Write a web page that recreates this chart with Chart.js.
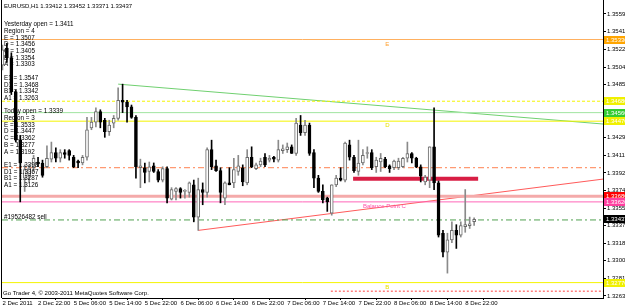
<!DOCTYPE html>
<html>
<head>
<meta charset="utf-8">
<script src="https://cdn.jsdelivr.net/npm/chart.js@4.4.0/dist/chart.umd.min.js"></script>
<style>
  html, body { margin: 0; padding: 0; background: #fff; }
  #wrap { width: 625px; height: 308px; }
</style>
</head>
<body>
<div id="wrap"><canvas id="chart" width="625" height="308"></canvas></div>
<script>
// EURUSD H1, bar 0 = 2 Dec 2011 14:00, last bar = 9 Dec 00:00
const opens = [
  1.3506,1.3524,1.3514,1.3478,1.3427,1.3387,1.3390,1.3398,1.3404,1.3403,
  1.3399,1.3407,1.3414,1.3408,1.3414,1.3416,1.3409,1.3405,1.3403,1.3409,
  1.3440,1.3446,1.3457,1.3448,1.3436,1.3445,1.3450,1.3469,1.3467,1.3462,
  1.3451,1.3398,1.3398,1.3394,1.3400,1.3394,1.3385,1.3397,1.3365,1.3373,
  1.3376,1.3373,1.3372,1.3380,1.3346,1.3375,1.3372,1.3417,1.3400,1.3395,
  1.3366,1.3382,1.3382,1.3394,1.3398,1.3382,1.3409,1.3397,1.3401,1.3409,
  1.3406,1.3409,1.3406,1.3416,1.3417,1.3420,1.3413,1.3443,1.3435,1.3443,
  1.3414,1.3387,1.3373,1.3366,1.3350,1.3380,1.3387,1.3385,1.3422,1.3409,
  1.3394,1.3403,1.3413,1.3414,1.3399,1.3404,1.3407,1.3400,1.3398,1.3398,
  1.3399,1.3408,1.3413,1.3408,1.3399,1.3383,1.3385,1.3420,1.3382,1.3329,
  1.3309,1.3322,1.3332,1.3327,1.3336,1.3337,1.33412
];
const highs = [
  1.3527,1.3529,1.3519,1.3480,1.3432,1.3401,1.3401,1.3411,1.3409,1.3406,
  1.3421,1.3425,1.3419,1.3417,1.3417,1.3417,1.3411,1.3406,1.3411,1.3451,
  1.3451,1.3461,1.3459,1.3450,1.3448,1.3453,1.3482,1.3486,1.3469,1.3464,
  1.3453,1.3407,1.3403,1.3404,1.3403,1.3396,1.3399,1.3399,1.3377,1.3377,
  1.3377,1.3375,1.3383,1.3385,1.3387,1.3382,1.3419,1.3427,1.3406,1.3398,
  1.3383,1.3398,1.3408,1.3411,1.3401,1.3417,1.3420,1.3403,1.3408,1.3413,
  1.3411,1.3410,1.3427,1.3422,1.3424,1.3422,1.3450,1.3453,1.3448,1.3445,
  1.3417,1.3390,1.3380,1.3367,1.3380,1.3390,1.3398,1.3425,1.3427,1.3411,
  1.3427,1.3417,1.3420,1.3417,1.3409,1.3413,1.3409,1.3401,1.3406,1.3408,
  1.3409,1.3425,1.3414,1.3409,1.3401,1.3390,1.3420,1.3461,1.3384,1.3332,
  1.3329,1.3341,1.3338,1.3341,1.3375,1.3346,1.33452
];
const lows = [
  1.3501,1.3509,1.3475,1.3425,1.3362,1.3373,1.3383,1.3394,1.3399,1.3388,
  1.3398,1.3404,1.3404,1.3404,1.3408,1.3406,1.3398,1.3398,1.3401,1.3406,
  1.3438,1.3441,1.3440,1.3430,1.3432,1.3440,1.3448,1.3456,1.3446,1.3450,
  1.3387,1.3377,1.3382,1.3383,1.3393,1.3383,1.3383,1.3361,1.3364,1.3364,
  1.3366,1.3366,1.3367,1.3341,1.3332,1.3359,1.3367,1.3396,1.3394,1.3361,
  1.3359,1.3380,1.3377,1.3390,1.3379,1.3380,1.3398,1.3396,1.3399,1.3399,
  1.3404,1.3404,1.3404,1.3413,1.3414,1.3413,1.3411,1.3432,1.3432,1.3411,
  1.3377,1.3372,1.3361,1.3352,1.3348,1.3378,1.3384,1.3383,1.3406,1.3393,
  1.3390,1.3401,1.3408,1.3396,1.3393,1.3394,1.3398,1.3393,1.3396,1.3396,
  1.3398,1.3404,1.3403,1.3398,1.3383,1.3380,1.3377,1.3375,1.3325,1.3304,
  1.3287,1.3319,1.3313,1.3325,1.3330,1.3334,1.33371
];
const closes = [
  1.3522,1.3514,1.3478,1.3427,1.3403,1.3396,1.3398,1.3408,1.3402,1.3390,
  1.3408,1.3414,1.3408,1.3414,1.3412,1.3411,1.3399,1.3403,1.3409,1.3438,
  1.3446,1.3457,1.3446,1.3436,1.3443,1.3450,1.3469,1.3467,1.3462,1.3451,
  1.3399,1.3400,1.3393,1.3399,1.3394,1.3385,1.3397,1.3366,1.3375,1.3376,
  1.3372,1.3374,1.3382,1.3346,1.3375,1.3372,1.3417,1.3399,1.3395,1.3372,
  1.3382,1.3380,1.3396,1.3400,1.3383,1.3409,1.3399,1.3401,1.3405,1.3401,
  1.3408,1.3407,1.3417,1.3418,1.3420,1.3413,1.3445,1.3435,1.3443,1.3413,
  1.3387,1.3373,1.3364,1.3362,1.3380,1.3387,1.3385,1.3424,1.3409,1.3395,
  1.3403,1.3411,1.3414,1.3398,1.3406,1.3408,1.3399,1.3397,1.3405,1.3405,
  1.3408,1.3413,1.3408,1.3399,1.3389,1.3388,1.3420,1.3382,1.3327,1.3309,
  1.3322,1.3332,1.3327,1.3337,1.3338,1.3339,1.33437
];

const timeTickIdx = [0, 8, 16, 24, 32, 40, 48, 56, 64, 72, 80, 88, 96, 104];
const timeTickLabels = ['2 Dec 2011', '2 Dec 22:00', '5 Dec 06:00', '5 Dec 14:00', '5 Dec 22:00',
  '6 Dec 06:00', '6 Dec 14:00', '6 Dec 22:00', '7 Dec 06:00', '7 Dec 14:00', '7 Dec 22:00',
  '8 Dec 06:00', '8 Dec 14:00', '8 Dec 22:00'];
const priceTicks = [1.35599, 1.35418, 1.35229, 1.35040, 1.34855, 1.34670, 1.34480, 1.34296,
  1.34110, 1.33925, 1.33740, 1.33555, 1.33370, 1.33185, 1.33000, 1.32815, 1.32630];

// levels drawn by the indicator
const levelE3 = 1.3533, levelD1r4 = 1.3468, levelD4 = 1.3456, levelD3 = 1.3447;
const levelE1r3 = 1.3398, levelD1r3 = 1.3368, levelC3 = 1.3362, levelB3 = 1.3277;
const orderPrice = 1.3343, lastPrice = 1.33437, lowDotted = 1.3268;
const greenTrend = [[26, 1.3486], [134.96, 1.3444]];
const redTrend = [[44, 1.3332], [134.96, 1.3386]];
const zoneBar = [[78.8, 1.33865], [106.9, 1.33865]];

const infoLines = ['Yesterday open = 1.3411', 'Region = 4', 'E = 1.3507', 'D = 1.3456', 'C = 1.3405',
  'B = 1.3354', 'A = 1.3303', '', 'E1 = 1.3547', 'D1 = 1.3468', 'B1 = 1.3342', 'A1 = 1.3263', '',
  'Today open = 1.3339', 'Region = 3', 'E = 1.3533', 'D = 1.3447', 'C = 1.3362', 'B = 1.3277',
  'A = 1.3192', '', 'E1 = 1.3398', 'D1 = 1.3367', 'B1 = 1.3287', 'A1 = 1.3126'];

const X_MIN = -0.1, X_MAX = 134.96;
const Y_MAX = 1.35746, Y_MIN = 1.32608;
const FONT = '"Liberation Sans", Arial, sans-serif';

const idx = opens.map((_, i) => i);
const bull = idx.map(i => closes[i] >= opens[i]);

function seg(pts, color, width, dash) {
  return {
    type: 'line',
    data: pts.map(p => ({ x: p[0], y: p[1] })),
    borderColor: color, borderWidth: width, borderDash: dash || [],
    pointRadius: 0, fill: false, tension: 0, order: 5
  };
}
function hline(price, color, width, dash, from) {
  return seg([[from === undefined ? X_MIN : from, price], [X_MAX, price]], color, width, dash);
}

const overlay = {
  id: 'overlay',
  beforeDraw(chart) {
    const ctx = chart.ctx;
    ctx.save();
    ctx.fillStyle = '#fff';
    ctx.fillRect(0, 0, chart.width, chart.height);
    ctx.restore();
  },
  afterDatasetsDraw(chart) {
    const { ctx, scales: { x, y } } = chart;
    ctx.save();
    ctx.textBaseline = 'middle';
    ctx.textAlign = 'left';
    ctx.font = '6px ' + FONT;
    // level letters
    ctx.fillStyle = '#ffa030';
    ctx.fillText('E', x.getPixelForValue(86), y.getPixelForValue(levelE3) + 5);
    ctx.fillStyle = '#e8e000';
    ctx.fillText('D', x.getPixelForValue(86), y.getPixelForValue(levelD3) + 4);
    ctx.fillText('B', x.getPixelForValue(86), y.getPixelForValue(levelB3) + 5);
    ctx.fillStyle = '#ff4fa8';
    ctx.fillText('Balance Point C', x.getPixelForValue(81), y.getPixelForValue(levelC3) + 4);
    // info text
    ctx.fillStyle = '#000';
    ctx.font = '6.3px ' + FONT;
    infoLines.forEach((t, r) => { if (t) ctx.fillText(t, 4, 24.5 + 6.7 * r); });
    ctx.fillText('#19526482 sell', 4, 217.5);
    ctx.font = '6px ' + FONT;
    ctx.fillText('EURUSD,H1 1.33412 1.33452 1.33371 1.33437', 4, 6);
    ctx.fillText('Go Trader 4, \u00a9 2003-2011 MetaQuotes Software Corp.', 3, 293);
    ctx.restore();
  },
  afterDraw(chart) {
    const { ctx, scales: { y }, chartArea } = chart;
    ctx.save();
    ctx.strokeStyle = '#000';
    ctx.lineWidth = 1;
    ctx.beginPath();
    ctx.moveTo(1.5, 0);
    ctx.lineTo(1.5, chartArea.bottom);
    ctx.stroke();
    const boxes = [
      [levelE3, '#ffa500', '1.35330'], [levelD1r4, '#f0f000', '1.34680'],
      [levelD4, '#33cc33', '1.34560'], [levelD3, '#f0f000', '1.34470'],
      [levelD1r3, '#ff0000', '1.33680'], [levelC3, '#ff3fa0', '1.33620'],
      [lastPrice, '#000000', '1.33437'], [levelB3, '#f0f000', '1.32770']
    ];
    ctx.font = '6px ' + FONT;
    ctx.textBaseline = 'middle';
    boxes.forEach(b => {
      const py = Math.round(y.getPixelForValue(b[0]));
      ctx.fillStyle = b[1];
      ctx.fillRect(604, py - 4, 21, 8);
      ctx.fillStyle = '#fff';
      ctx.fillText(b[2], 606, py);
    });
    ctx.restore();
  }
};

new Chart(document.getElementById('chart'), {
  type: 'bar',
  data: {
    datasets: [
      {
        data: idx.map(i => ({ x: i, y: [opens[i], closes[i]] })),
        backgroundColor: idx.map(i => bull[i] ? '#ffffff' : '#000000'),
        borderColor: idx.map(i => bull[i] ? '#6a6a6a' : '#000000'),
        borderWidth: 1, borderSkipped: false, barThickness: 3, minBarLength: 1,
        grouped: false, order: 0
      },
      {
        data: idx.map(i => ({ x: i, y: [lows[i], highs[i]] })),
        backgroundColor: idx.map(i => bull[i] ? '#8a8a8a' : '#000000'),
        borderWidth: 0, barThickness: 1, grouped: false, order: 1
      },
      hline(levelE3, '#ffb060', 1),
      hline(levelD1r4, '#f4f400', 1, [3, 2]),
      hline(levelD4, '#a0e4a0', 1),
      hline(levelD3, '#f4f400', 1),
      hline(levelE1r3, '#ff8050', 1, [6, 3, 2, 3]),
      hline(levelD1r3, '#f4aaaa', 3),
      hline(levelC3, '#ff66b8', 1),
      hline(orderPrice, '#50a050', 1, [6, 3, 2, 3]),
      hline(levelB3, '#f4f400', 1),
      hline(lowDotted, '#ff4040', 1, [2, 2], 73.8),
      seg(greenTrend, '#70d070', 1),
      seg(redTrend, '#ff5a5a', 1),
      seg(zoneBar, '#d81e44', 4)
    ]
  },
  options: {
    responsive: false,
    animation: false,
    layout: { padding: { left: 2, top: 0, right: 0, bottom: 0 } },
    plugins: { legend: { display: false }, tooltip: { enabled: false } },
    scales: {
      x: {
        type: 'linear', min: X_MIN, max: X_MAX, offset: false,
        grid: { drawOnChartArea: false, tickLength: 2, color: '#000' },
        border: { color: '#000' },
        ticks: {
          font: { family: FONT, size: 6 }, color: '#000', align: 'start', padding: 0,
          autoSkip: false, maxRotation: 0, callback: (v, i) => timeTickLabels[i]
        },
        afterBuildTicks: s => { s.ticks = timeTickIdx.map(v => ({ value: v })); },
        afterFit: s => { s.height = 10; s.paddingLeft = 0; s.paddingRight = 0; }
      },
      y: {
        type: 'linear', position: 'right', min: Y_MIN, max: Y_MAX,
        grid: { drawOnChartArea: false, tickLength: 3, color: '#000' },
        border: { color: '#000' },
        ticks: { font: { family: FONT, size: 6 }, color: '#000', padding: 1, callback: v => v.toFixed(5) },
        afterBuildTicks: s => { s.ticks = priceTicks.map(v => ({ value: v })); },
        afterFit: s => { s.width = 22; s.paddingTop = 0; s.paddingBottom = 0; }
      }
    }
  },
  plugins: [overlay]
});
</script>
</body>
</html>
